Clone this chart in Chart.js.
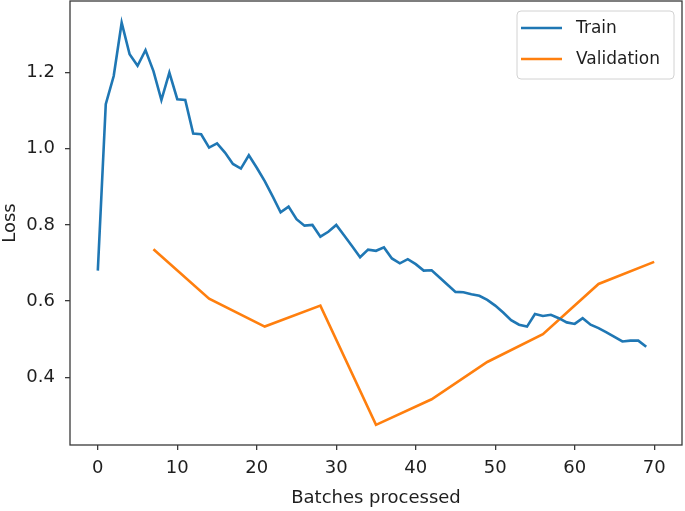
<!DOCTYPE html>
<html>
<head>
<meta charset="utf-8">
<script src="https://cdn.jsdelivr.net/npm/chart.js@4/dist/chart.umd.min.js"></script>
<style>
  html, body { margin: 0; padding: 0; background: #fff; }
  canvas { display: block; }
</style>
</head>
<body>
<canvas id="loss-chart" width="685" height="511"></canvas>
<script>
// training loss, one value per batch (batch 0..69)
const trainLoss = [
  0.680, 1.117, 1.191, 1.331, 1.248, 1.218, 1.259, 1.204, 1.128, 1.200,
  1.130, 1.128, 1.040, 1.038, 1.003, 1.014, 0.990, 0.960, 0.948, 0.983,
  0.950, 0.915, 0.875, 0.833, 0.848, 0.815, 0.798, 0.800, 0.769, 0.782,
  0.800, 0.772, 0.744, 0.715, 0.735, 0.732, 0.741, 0.712, 0.699, 0.710,
  0.697, 0.680, 0.681, 0.662, 0.643, 0.624, 0.623, 0.618, 0.614, 0.603,
  0.588, 0.570, 0.550, 0.538, 0.533, 0.566, 0.561, 0.564, 0.555, 0.544,
  0.540, 0.555, 0.538, 0.529, 0.518, 0.506, 0.494, 0.496, 0.496, 0.480
];
// validation loss, measured every 7 batches
const valBatches = [7, 14, 21, 28, 35, 42, 49, 56, 63, 70];
const valLoss = [0.736, 0.606, 0.533, 0.588, 0.275, 0.342, 0.440, 0.513, 0.645, 0.703];

const xTicks = [0, 10, 20, 30, 40, 50, 60, 70];
const yTicks = [0.4, 0.6, 0.8, 1.0, 1.2];

const FONT = 'DejaVu Sans';
const FSIZE = 18;
const TEXT = '#1e1e1e';
const SPINE = '#3a3a3a';

// box around the plot + matplotlib style legend
const framePlugin = {
  id: 'frame',
  afterDraw(chart) {
    const {ctx, chartArea: a} = chart;
    ctx.save();
    ctx.strokeStyle = SPINE;
    ctx.lineWidth = 1.3;
    ctx.strokeRect(a.left, a.top, a.right - a.left, a.bottom - a.top);

    // legend
    const w = 157, h = 68;
    const bx = a.right - 8 - w, by = a.top + 10;
    ctx.fillStyle = 'rgba(255,255,255,0.8)';
    ctx.strokeStyle = '#d2d2d2';
    ctx.lineWidth = 1;
    ctx.beginPath();
    ctx.roundRect(bx, by, w, h, 4);
    ctx.fill();
    ctx.stroke();

    ctx.font = (FSIZE - 1) + 'px "' + FONT + '"';
    ctx.textBaseline = 'middle';
    ctx.textAlign = 'left';
    chart.data.datasets.forEach((ds, i) => {
      const ly = by + 17 + i * 31;
      ctx.strokeStyle = ds.borderColor;
      ctx.lineWidth = 2.6;
      ctx.beginPath();
      ctx.moveTo(bx + 4, ly);
      ctx.lineTo(bx + 45, ly);
      ctx.stroke();
      ctx.fillStyle = TEXT;
      ctx.fillText(ds.label, bx + 59, ly + 1);
    });
    ctx.restore();
  }
};

function noPad(s) {
  s.paddingTop = 0;
  s.paddingBottom = 0;
  s.paddingLeft = 0;
  s.paddingRight = 0;
}

new Chart(document.getElementById('loss-chart'), {
  type: 'line',
  data: {
    datasets: [{
      label: 'Train',
      data: trainLoss.map((v, i) => ({x: i, y: v})),
      borderColor: '#1f77b4',
      borderWidth: 2.6,
      pointRadius: 0,
      fill: false,
      tension: 0
    }, {
      label: 'Validation',
      data: valBatches.map((b, i) => ({x: b, y: valLoss[i]})),
      borderColor: '#ff7f0e',
      borderWidth: 2.6,
      pointRadius: 0,
      fill: false,
      tension: 0
    }]
  },
  options: {
    responsive: false,
    animation: false,
    layout: { padding: { top: 1, right: 3, left: 0, bottom: 0 } },
    plugins: {
      legend: { display: false },
      tooltip: { enabled: false }
    },
    scales: {
      x: {
        type: 'linear',
        min: -3.5,
        max: 73.5,
        afterBuildTicks: s => { s.ticks = xTicks.map(v => ({value: v})); },
        afterFit: s => { s.height = 66; noPad(s); },
        grid: { drawOnChartArea: false, drawTicks: true, tickLength: 5, tickColor: SPINE, lineWidth: 1.3 },
        border: { display: false },
        ticks: {
          color: TEXT,
          font: { family: FONT, size: FSIZE },
          padding: 8,
          maxRotation: 0,
          callback: v => String(v)
        },
        title: {
          display: true,
          text: 'Batches processed',
          color: TEXT,
          font: { family: FONT, size: FSIZE },
          padding: { top: 0, bottom: 2 }
        }
      },
      y: {
        min: 0.222,
        max: 1.388,
        afterBuildTicks: s => { s.ticks = yTicks.map(v => ({value: v})); },
        afterFit: s => { s.width = 70; noPad(s); },
        grid: { drawOnChartArea: false, drawTicks: true, tickLength: 5, tickColor: SPINE, lineWidth: 1.3 },
        border: { display: false },
        ticks: {
          color: TEXT,
          font: { family: FONT, size: FSIZE },
          padding: 10,
          callback: v => v.toFixed(1)
        },
        title: {
          display: true,
          text: 'Loss',
          color: TEXT,
          font: { family: FONT, size: FSIZE },
          padding: { top: 0, bottom: 0 }
        }
      }
    }
  },
  plugins: [framePlugin]
});
</script>
</body>
</html>
